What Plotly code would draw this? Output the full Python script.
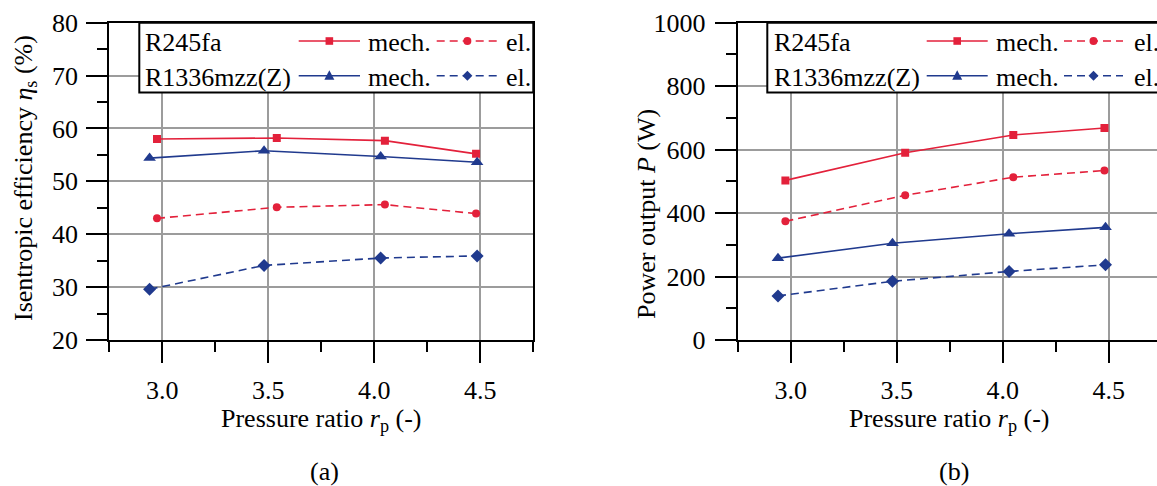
import plotly.graph_objects as go

# ---------------- data ----------------
rp_r245fa = [2.975, 3.54, 4.05, 4.48]
rp_r1336 = [2.94, 3.48, 4.03, 4.485]

eff_r245fa_mech = [58.0, 58.2, 57.7, 55.2]
eff_r245fa_el = [43.0, 45.1, 45.6, 43.9]
eff_r1336_mech = [54.4, 55.8, 54.7, 53.6]
eff_r1336_el = [29.6, 34.1, 35.5, 35.9]

pow_r245fa_mech = [503, 590, 646, 668]
pow_r245fa_el = [374, 456, 513, 534]
pow_r1336_mech = [258, 305, 335, 355]
pow_r1336_el = [139, 185, 216, 237]

x_ticks_major = [3.0, 3.5, 4.0, 4.5]

W, H = 1157, 486
RED = "#E3213B"
BLUE = "#203A8E"
FONT = "Liberation Serif"
FS = 26
DASH = "8px,5px"


def fx(px):
    return px / W


def fy(py):
    return 1 - py / H


fig = go.Figure()

series = [
    (rp_r245fa, eff_r245fa_mech, pow_r245fa_mech, RED, "solid", "square", 8),
    (rp_r245fa, eff_r245fa_el, pow_r245fa_el, RED, DASH, "circle", 8),
    (rp_r1336, eff_r1336_mech, pow_r1336_mech, BLUE, "solid", "triangle-up", 11),
    (rp_r1336, eff_r1336_el, pow_r1336_el, BLUE, DASH, "diamond", 10),
]
for xs, eff, pw, col, dash, sym, ms in series:
    fig.add_trace(go.Scatter(x=xs, y=eff, mode="lines+markers",
                             line=dict(color=col, width=1.6, dash=dash),
                             marker=dict(symbol=sym, size=ms, color=col),
                             xaxis="x", yaxis="y", showlegend=False, hoverinfo="skip"))
    fig.add_trace(go.Scatter(x=xs, y=pw, mode="lines+markers",
                             line=dict(color=col, width=1.6, dash=dash),
                             marker=dict(symbol=sym, size=ms, color=col),
                             xaxis="x2", yaxis="y2", showlegend=False, hoverinfo="skip"))

common_axis = dict(
    showline=True, linecolor="black", linewidth=2,
    ticks="outside", ticklen=21, tickwidth=2, tickcolor="black",
    showgrid=True, gridcolor="#9c9c9c", gridwidth=1.5,
    zeroline=False, automargin=False,
    tickfont=dict(family=FONT, size=FS, color="black"),
)

top_px, bot_px = 22.7, 340.0
L_left, L_right = 109.3, 533.3
R_left = 737.7
px_per_unit = (L_right - L_left) / 2.0
x2_max = 2.75 + (W - R_left) / px_per_unit

fig.update_layout(
    template="none",
    width=W, height=H,
    margin=dict(l=0, r=0, t=0, b=0, pad=0),
    paper_bgcolor="white", plot_bgcolor="white",
    showlegend=False,
    font=dict(family=FONT, size=FS, color="black"),
    xaxis=dict(common_axis, domain=[fx(L_left), fx(L_right)], range=[2.75, 4.75],
               tickvals=x_ticks_major, tickformat=".1f", mirror=True, anchor="y",
               ticklabelstandoff=5,
               minor=dict(dtick=0.25, tick0=2.75, ticklen=10, tickwidth=2,
                          tickcolor="black", ticks="outside", showgrid=False)),
    yaxis=dict(common_axis, domain=[fy(bot_px), fy(top_px)], range=[20, 80],
               dtick=10, tick0=20, mirror=True, anchor="x", ticklabelstandoff=3,
               minor=dict(dtick=5, tick0=20, ticklen=10, tickwidth=2,
                          tickcolor="black", ticks="outside", showgrid=False)),
    xaxis2=dict(common_axis, domain=[fx(R_left), 1.0], range=[2.75, x2_max],
                tickvals=x_ticks_major, tickformat=".1f", mirror=True, anchor="y2",
                ticklabelstandoff=5,
                minor=dict(dtick=0.25, tick0=2.75, ticklen=10, tickwidth=2,
                           tickcolor="black", ticks="outside", showgrid=False)),
    yaxis2=dict(common_axis, domain=[fy(bot_px), fy(top_px)], range=[0, 1000],
                dtick=200, tick0=0, mirror=False, anchor="x2", ticklabelstandoff=4,
                minor=dict(dtick=100, tick0=0, ticklen=10, tickwidth=2,
                           tickcolor="black", ticks="outside", showgrid=False)),
)

shapes = []
annotations = []


def text(x, y, s, xanchor="left", angle=0, yanchor="middle"):
    annotations.append(dict(x=fx(x), y=fy(y), xref="paper", yref="paper", text=s,
                            showarrow=False, xanchor=xanchor, yanchor=yanchor,
                            textangle=angle,
                            font=dict(family=FONT, size=FS, color="black")))


def marker_shape(sym, cx, cy, col, r):
    if sym == "square":
        shapes.append(dict(type="rect", xref="paper", yref="paper",
                           x0=fx(cx - r), x1=fx(cx + r), y0=fy(cy + r), y1=fy(cy - r),
                           fillcolor=col, line=dict(width=0), layer="above"))
    elif sym == "circle":
        shapes.append(dict(type="circle", xref="paper", yref="paper",
                           x0=fx(cx - r), x1=fx(cx + r), y0=fy(cy + r), y1=fy(cy - r),
                           fillcolor=col, line=dict(width=0), layer="above"))
    elif sym == "triangle":
        p = f"M {fx(cx - r)} {fy(cy + r * 0.8)} L {fx(cx + r)} {fy(cy + r * 0.8)} L {fx(cx)} {fy(cy - r * 1.1)} Z"
        shapes.append(dict(type="path", xref="paper", yref="paper", path=p,
                           fillcolor=col, line=dict(width=0), layer="above"))
    elif sym == "diamond":
        p = f"M {fx(cx - r)} {fy(cy)} L {fx(cx)} {fy(cy - r)} L {fx(cx + r)} {fy(cy)} L {fx(cx)} {fy(cy + r)} Z"
        shapes.append(dict(type="path", xref="paper", yref="paper", path=p,
                           fillcolor=col, line=dict(width=0), layer="above"))


def legend(box_left, box_right, text_x, mech_x0, mech_x1, mech_text_x, el_x0, el_x1, el_text_x):
    shapes.append(dict(type="rect", xref="paper", yref="paper",
                       x0=fx(box_left), x1=fx(box_right), y0=fy(92.5), y1=fy(top_px),
                       fillcolor="white", line=dict(color="black", width=2), layer="above"))
    rows = [("R245fa", 41.0, RED, "square", "circle", 3.8, 4.0),
            ("R1336mzz(Z)", 75.7, BLUE, "triangle", "diamond", 5.0, 5.0)]
    for label, yc, col, s1, s2, r1, r2 in rows:
        text(text_x, yc + 1.5, label)
        shapes.append(dict(type="line", xref="paper", yref="paper",
                           x0=fx(mech_x0), x1=fx(mech_x1), y0=fy(yc), y1=fy(yc),
                           line=dict(color=col, width=1.6), layer="above"))
        marker_shape(s1, (mech_x0 + mech_x1) / 2, yc, col, r1)
        text(mech_text_x, yc + 1.5, "mech.")
        shapes.append(dict(type="line", xref="paper", yref="paper",
                           x0=fx(el_x0), x1=fx(el_x1), y0=fy(yc), y1=fy(yc),
                           line=dict(color=col, width=1.6, dash=DASH), layer="above"))
        marker_shape(s2, (el_x0 + el_x1) / 2, yc, col, r2)
        text(el_text_x, yc + 1.5, "el.")


legend(139.3, L_right, 142.7, 298.7, 360, 365.7, 436.7, 498, 504)
legend(767.3, W + 20, 771.7, 926.7, 987.7, 994, 1064, 1123, 1131.7)

# axis titles & panel labels
text(25, 178, "Isentropic efficiency <i>η</i><sub>s</sub> (%)", xanchor="center", angle=-90)
text(646, 214, "Power output <i>P</i> (W)", xanchor="center", angle=-90)
text(321, 420, "Pressure ratio <i>r</i><sub>p</sub> (-)", xanchor="center")
text(949, 420, "Pressure ratio <i>r</i><sub>p</sub> (-)", xanchor="center")
text(324, 471, "(a)", xanchor="center")
text(954, 471, "(b)", xanchor="center")

fig.update_layout(shapes=shapes, annotations=annotations)

fig.write_html("out.html", config={"displayModeBar": False},
               post_script="document.body.style.margin='0';document.body.style.padding='0';")
